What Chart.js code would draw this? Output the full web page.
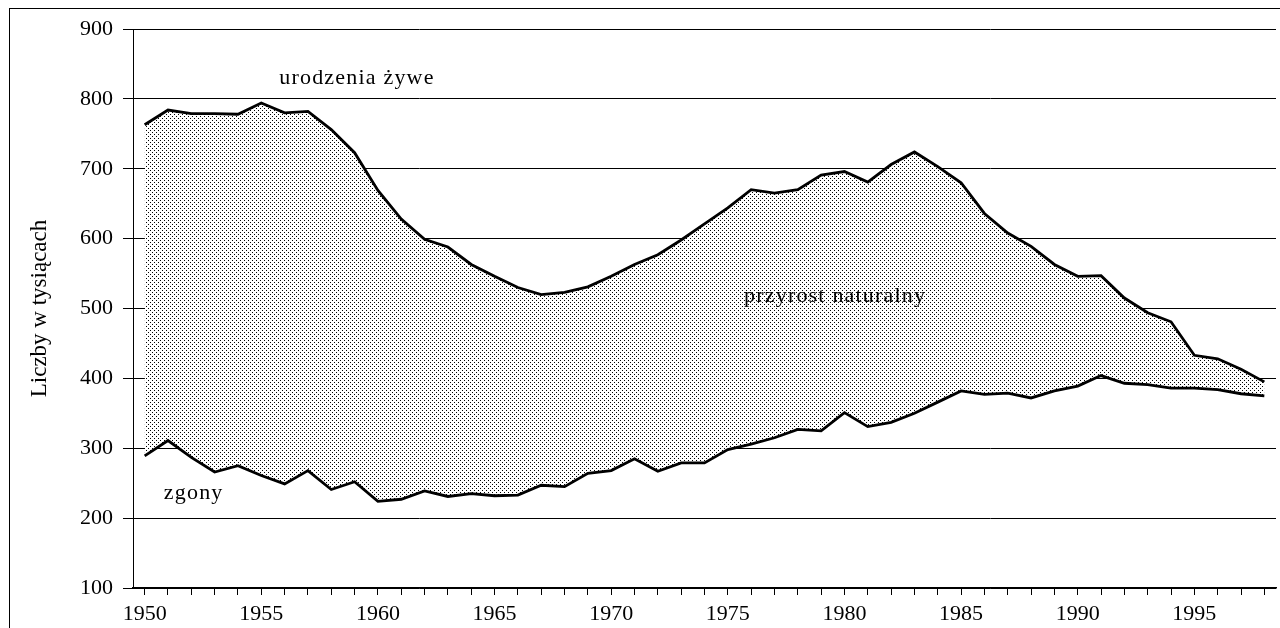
<!DOCTYPE html>
<html>
<head>
<meta charset="utf-8">
<script src="https://cdn.jsdelivr.net/npm/chart.js@4/dist/chart.umd.min.js"></script>
<style>
  html, body { margin: 0; padding: 0; background: #fff; }
  canvas { display: block; }
</style>
</head>
<body>
<canvas id="myChart" width="1280" height="628"></canvas>
<script>
// lata 1950-1998
const years = [];
for (let y = 1950; y <= 1998; y++) years.push(String(y));

// urodzenia zywe (tys.)
const births = [763, 784, 779, 779, 778, 794, 780, 782, 756, 723,
                669, 628, 599, 588, 563, 546, 530, 520, 523, 531,
                546, 563, 577, 598, 621, 644, 670, 665, 670, 691,
                696, 681, 706, 724, 703, 680, 636, 608, 589, 563,
                546, 547, 515, 494, 481, 433, 428, 413, 395];

// zgony (tys.)
const deaths = [289, 311, 287, 266, 275, 261, 249, 268, 241, 252,
                224, 227, 239, 231, 235, 232, 233, 247, 245, 264,
                268, 285, 267, 279, 279, 298, 306, 315, 327, 325,
                351, 331, 337, 350, 366, 382, 377, 379, 372, 382,
                389, 404, 393, 391, 386, 386, 384, 378, 375];

const yMin = 100;
const yMax = 900;
const yStep = 100;

// podpisy na wykresie: tekst, rok, wartosc
const noteTexts = ['urodzenia żywe', 'przyrost naturalny', 'zgony'];
const noteYears = [1959.1, 1979.6, 1952.1];
const noteValues = [829, 518, 236];

const serif = "'Liberation Serif', 'DejaVu Serif', serif";

// kropkowany wzor wypelnienia
const makeDots = () => {
    let tile = document.createElement('canvas');
    tile.width = 4;
    tile.height = 4;
    let t = tile.getContext('2d');
    t.fillStyle = '#ffffff';
    t.fillRect(0, 0, 4, 4);
    t.fillStyle = '#000000';
    t.fillRect(0, 0, 1, 1);
    t.fillRect(2, 2, 1, 1);
    return t.createPattern(tile, 'repeat');
}

const ctx = document.getElementById('myChart');

const framePlugin = {
    id: 'frame',
    beforeDraw: (chart) => {
        let c = chart.ctx;
        c.save();
        c.fillStyle = '#ffffff';
        c.fillRect(0, 0, chart.width, chart.height);
        c.strokeStyle = '#000000';
        c.lineWidth = 1;
        c.strokeRect(9.5, 8.5, chart.width + 20, chart.height + 20);
        c.restore();
    }
};

const notesPlugin = {
    id: 'notes',
    afterDatasetsDraw: (chart) => {
        let c = chart.ctx;
        let xs = chart.scales.x;
        let ys = chart.scales.y;
        let first = Number(years[0]);
        c.save();
        c.font = '22px ' + serif;
        c.letterSpacing = '1.2px';
        c.fillStyle = '#000000';
        c.textAlign = 'center';
        c.textBaseline = 'middle';
        for (let i = 0; i < noteTexts.length; i++) {
            let px = xs.getPixelForDecimal((noteYears[i] - first + 0.5) / years.length);
            let py = ys.getPixelForValue(noteValues[i]);
            c.fillText(noteTexts[i], px, py);
        }
        c.restore();
    }
};

const myChart = new Chart(ctx, {
    type: 'line',
    data: {
        labels: years,
        datasets: [{
            label: 'urodzenia żywe',
            data: births,
            borderColor: '#000000',
            borderWidth: 2.8,
            backgroundColor: makeDots(),
            fill: '+1',
            pointRadius: 0,
            tension: 0
        }, {
            label: 'zgony',
            data: deaths,
            borderColor: '#000000',
            borderWidth: 2.8,
            fill: false,
            pointRadius: 0,
            tension: 0
        }]
    },
    options: {
        responsive: false,
        animation: false,
        layout: {
            padding: { left: 0, top: 29, right: 4, bottom: 0 }
        },
        plugins: {
            legend: { display: false },
            tooltip: { enabled: false },
            filler: { drawTime: 'beforeDatasetsDraw' }
        },
        scales: {
            x: {
                type: 'category',
                offset: true,
                afterFit: (scale) => { scale.height = 40; },
                grid: {
                    display: true,
                    drawOnChartArea: false,
                    drawTicks: true,
                    tickLength: 7,
                    color: '#000000',
                    offset: false
                },
                border: { display: true, color: '#000000', width: 1.5 },
                ticks: {
                    autoSkip: false,
                    maxRotation: 0,
                    padding: 6,
                    color: '#000000',
                    font: { family: serif, size: 22 },
                    callback: function (val, index) {
                        let yr = years[index];
                        return Number(yr) % 5 === 0 ? yr : '';
                    }
                }
            },
            y: {
                min: yMin,
                max: yMax,
                afterFit: (scale) => { scale.width = 133; },
                grid: {
                    color: '#000000',
                    lineWidth: 1,
                    tickLength: 10
                },
                border: { display: true, color: '#000000', width: 1 },
                ticks: {
                    stepSize: yStep,
                    padding: 10,
                    color: '#000000',
                    font: { family: serif, size: 22 }
                },
                title: {
                    display: true,
                    text: 'Liczby w tysiącach',
                    color: '#000000',
                    font: { family: serif, size: 23 },
                    padding: { top: 26, bottom: 0 }
                }
            }
        }
    },
    plugins: [framePlugin, notesPlugin]
});
</script>
</body>
</html>
